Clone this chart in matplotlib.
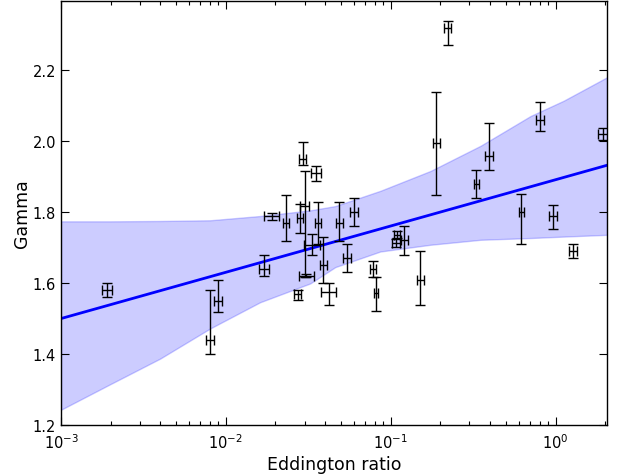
import matplotlib
matplotlib.use('Agg')
import matplotlib.pyplot as plt
import numpy as np

# ---- data ----
edd = [0.0019, 0.0080, 0.0090, 0.0171, 0.0190, 0.0231, 0.0272, 0.0292, 0.0282,
       0.0300, 0.0308, 0.0333, 0.0352, 0.0362, 0.0390, 0.0420, 0.0488, 0.0543,
       0.0600, 0.0780, 0.0815, 0.109, 0.108, 0.121, 0.151, 0.189, 0.221, 0.331,
       0.393, 0.80, 1.94, 0.62, 0.96, 1.27]
gamma = [1.580, 1.440, 1.549, 1.640, 1.788, 1.769, 1.568, 1.949, 1.782,
         1.817, 1.621, 1.708, 1.909, 1.769, 1.651, 1.576, 1.769, 1.670,
         1.800, 1.640, 1.571, 1.736, 1.713, 1.720, 1.609, 1.996, 2.320, 1.880,
         1.958, 2.060, 2.020, 1.800, 1.789, 1.689]
gamma_err_lo = [0.020, 0.040, 0.030, 0.020, 0.010, 0.050, 0.015, 0.016, 0.040,
                0.200, 0.005, 0.028, 0.020, 0.060, 0.050, 0.038, 0.050, 0.040,
                0.040, 0.024, 0.050, 0.010, 0.010, 0.040, 0.070, 0.148, 0.050, 0.040,
                0.038, 0.031, 0.017, 0.090, 0.038, 0.019]
gamma_err_hi = [0.020, 0.140, 0.060, 0.040, 0.010, 0.080, 0.012, 0.050, 0.040,
                0.100, 0.005, 0.030, 0.020, 0.060, 0.080, 0.024, 0.060, 0.040,
                0.040, 0.021, 0.047, 0.010, 0.010, 0.040, 0.080, 0.142, 0.020, 0.040,
                0.092, 0.049, 0.017, 0.050, 0.031, 0.021]
edd_err_dex = [0.03, 0.025, 0.025, 0.03, 0.045, 0.02, 0.02, 0.02, 0.02,
               0.03, 0.045, 0.05, 0.03, 0.02, 0.02, 0.045, 0.02, 0.025,
               0.025, 0.02, 0.01, 0.02, 0.025, 0.02, 0.02, 0.02, 0.02, 0.015,
               0.025, 0.025, 0.03, 0.015, 0.025, 0.025]

fit_x = [1e-3, 2.05]
fit_y = [1.500, 1.932]

band_x = [1e-3, 0.00199, 0.00399, 0.00803, 0.01614, 0.0325, 0.0461, 0.0865,
          0.1743, 0.3508, 0.7058, 1.12, 2.05]
band_hi = [1.774, 1.774, 1.775, 1.777, 1.789, 1.805, 1.817, 1.860,
           1.916, 1.987, 2.071, 2.114, 2.180]
band_lo = [1.243, 1.315, 1.387, 1.472, 1.546, 1.599, 1.645, 1.689,
           1.708, 1.722, 1.727, 1.731, 1.736]

xticks = [1e-3, 1e-2, 1e-1, 1e0]
yticks = [1.2, 1.4, 1.6, 1.8, 2.0, 2.2]
ytick_labels = ['1.2', '1.4', '1.6', '1.8', '2.0', '2.2']

# ---- figure ----
fig = plt.figure(figsize=(6.27, 4.77), dpi=100)
ax = fig.add_axes([61/627, 1-426/477, (607-61)/627, (426-2)/477])

ax.fill_between(band_x, band_lo, band_hi, color='b', alpha=0.2, lw=1)
ax.plot(fit_x, fit_y, color='b', lw=2)

x = np.array(edd)
d = np.array(edd_err_dex)
xerr = [x - x / 10**d, x * 10**d - x]
ax.errorbar(x, gamma, xerr=xerr, yerr=[gamma_err_lo, gamma_err_hi],
            fmt='none', ecolor='k', elinewidth=1, capsize=3.5, capthick=1)

ax.set_xscale('log')
ax.set_xlim(1e-3, 2.05)
ax.set_ylim(1.2, 2.395)
ax.set_xticks(xticks)
ax.set_yticks(yticks)
ax.set_yticklabels(ytick_labels)
ax.tick_params(which='both', direction='in', top=True, right=True, labelsize=10.5)
ax.tick_params(which='major', length=6, width=0.8)
ax.tick_params(which='minor', length=3, width=0.8)
ax.tick_params(axis='x', which='major', pad=5)
for s in ax.spines.values():
    s.set_linewidth(1.0)

ax.set_xlabel('Eddington ratio', fontsize=12.5, labelpad=3)
ax.set_ylabel('Gamma', fontsize=12.5, labelpad=1)

fig.savefig('out.png', dpi=100)
